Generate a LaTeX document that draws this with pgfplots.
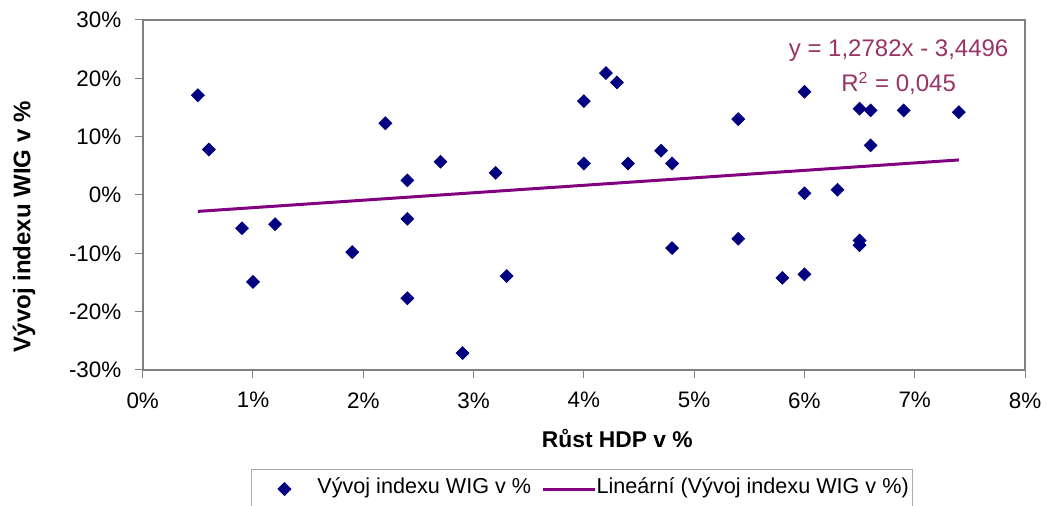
\documentclass[border=0pt]{standalone}
\usepackage{fontspec}
\setmainfont{Liberation Sans}
\usepackage{pgfplots}
\pgfplotsset{compat=1.18}
\definecolor{navyb}{RGB}{0,0,128}
\definecolor{trend}{RGB}{128,0,128}
\definecolor{eqc}{RGB}{153,51,102}
\definecolor{axgray}{RGB}{128,128,128}
\definecolor{leggray}{RGB}{170,170,170}
\pgfplotstableread{
x y
0.5 17.1
0.6 7.8
0.9 -5.7
1.0 -14.9
1.2 -5.0
1.9 -9.8
2.2 12.3
2.4 2.5
2.4 -4.1
2.4 -17.7
2.7 5.7
2.9 -27.1
3.2 3.8
3.3 -13.9
4.0 16.1
4.0 5.4
4.2 20.9
4.3 19.3
4.4 5.4
4.7 7.6
4.8 5.4
4.8 -9.1
5.4 13.0
5.4 -7.5
5.8 -14.2
6.0 17.7
6.0 0.3
6.0 -13.6
6.3 0.9
6.5 14.8
6.5 -7.8
6.5 -8.6
6.6 14.5
6.6 8.5
6.9 14.5
7.4 14.2
}\wigdata
\pgfplotsset{
  scatimg/.style={legend image code/.code={\path[draw=none,fill=none] (0pt,0pt) -- (31pt,0pt); \draw[##1, only marks] plot coordinates {(14.5pt,0pt)};}},
  lineimg/.style={legend image code/.code={\path[draw=none,fill=none] (0pt,0pt) -- (32.5pt,0pt); \draw[##1] (6pt,0pt) -- (32pt,0pt);}},
}
\begin{document}
\begin{tikzpicture}
\useasboundingbox (-71.35pt,-68pt) rectangle (452.15pt,185pt);
\begin{axis}[
  at={(0,0)}, anchor=south west,
  scale only axis, width=441.15pt, height=175pt,
  xmin=0, xmax=8, ymin=-30, ymax=30,
  xtick={0,1,2,3,4,5,6,7,8},
  xticklabels={0\%,1\%,2\%,3\%,4\%,5\%,6\%,7\%,8\%},
  ytick={-30,-20,-10,0,10,20,30},
  yticklabels={-30\%,-20\%,-10\%,0\%,10\%,20\%,30\%},
  xtick pos=bottom, ytick pos=left,
  tick align=outside, major tick length=4pt,
  tick style={axgray, line width=0.5pt},
  axis line style={axgray, line width=0.9pt},
  /pgf/number format/assume math mode=true,
  xticklabel style={font=\fontsize{11.2}{13}\selectfont, anchor=north, inner sep=0pt, yshift=-7pt},
  yticklabel style={font=\fontsize{11.2}{13}\selectfont, anchor=east, inner sep=0pt, xshift=-6.5pt},
  xlabel={Růst HDP v \%},
  xlabel style={font=\bfseries\fontsize{11.4}{13}\selectfont, at={(axis description cs:0.538,0)}, anchor=base, yshift=-39pt},
  ylabel={Vývoj indexu WIG v \%},
  ylabel style={font=\bfseries\fontsize{12}{14}\selectfont, at={(axis description cs:-0.1345,0.409)}, anchor=center},
  legend columns=2,
  legend style={at={(axis description cs:0.498,-0.283)}, anchor=north, draw=leggray, line width=0.5pt,
    inner xsep=2pt, inner ysep=5pt, column sep=0pt,
    nodes={inner sep=0pt, text height=7pt, text depth=2.5pt, font=\fontsize{10.8}{13}\selectfont},
    cells={anchor=west}},
]
\addplot[only marks, mark=square*, mark size=2.25pt, color=navyb, mark options={rotate=45}, scatimg]
  table[x=x, y=y] {\wigdata};
\addlegendentry{Vývoj indexu WIG v \%}
\addplot[trend, line width=1.5pt, mark=none, lineimg]
  coordinates {(0.5,-2.8105) (7.4,6.0091)};
\addlegendentry{Lineární (Vývoj indexu WIG v \%)}
\node[anchor=base, text=eqc, font=\fontsize{12}{14}\selectfont, inner sep=0pt] at (axis cs:6.854,23.7) {y = 1,2782x - 3,4496};
\node[anchor=base, text=eqc, font=\fontsize{12}{14}\selectfont, inner sep=0pt] at (axis cs:6.854,17.7) {R\textsuperscript{2} = 0,045};
\end{axis}
\end{tikzpicture}
\end{document}
